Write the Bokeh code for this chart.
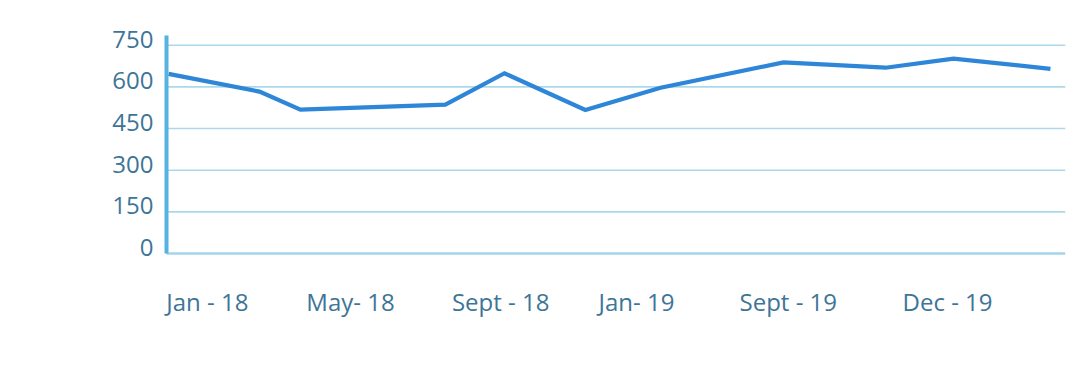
from bokeh.plotting import figure
from bokeh.models import FixedTicker, Range1d
from bokeh.core.properties import value
from bokeh.embed import file_html
from bokeh.resources import INLINE

# data (x in approximate month positions from Jan-18)
x_vals = [0, 2.6, 3.77, 7.91, 9.6, 11.91, 14.06, 17.57, 20.49, 22.43, 25.2]
y_vals = [647, 583, 518, 536, 649, 517, 597, 688, 669, 702, 665]

x_tick_pos = [1.11, 5.2, 9.49, 13.37, 17.71, 22.26]
x_tick_labels = ["Jan - 18", "May- 18", "Sept - 18", "Jan- 19", "Sept - 19", "Dec - 19"]
y_ticks = [0, 150, 300, 450, 600, 750]

FONT = "Open Sans"
LABEL_COLOR = "#3e7597"
AXIS_X = -0.057      # where the vertical axis line sits
AXIS_TOP = 785       # top end of the vertical axis line
X_END = 25.63

p = figure(width=1072, height=358, output_backend="svg", toolbar_location=None,
           x_range=Range1d(-1.943, X_END), y_range=Range1d(-25.2, 817.4),
           min_border_left=100, min_border_right=7, min_border_top=26, min_border_bottom=98)
p.outline_line_color = None
p.background_fill_color = "white"
p.border_fill_color = "white"
p.xgrid.grid_line_color = None
p.ygrid.grid_line_color = None
p.yaxis.visible = False

# horizontal grid lines (from tick values), starting at the axis line
grid_y = y_ticks[1:]
p.segment(x0=[AXIS_X] * len(grid_y), x1=[X_END] * len(grid_y), y0=grid_y, y1=grid_y,
          line_color="#acd8eb", line_width=1.6)
# baseline at 0
p.segment(x0=[AXIS_X], x1=[X_END], y0=[y_ticks[0]], y1=[y_ticks[0]],
          line_color="#a3d5eb", line_width=2.5)

# the series
p.line(x_vals, y_vals, line_color="#2d86d7", line_width=4.2, line_join="miter")

# vertical axis line
p.segment(x0=[AXIS_X], x1=[AXIS_X], y0=[y_ticks[0]], y1=[AXIS_TOP],
          line_color="#55b3e2", line_width=4)

# y tick labels, sitting just above their grid lines
p.text(x=[AXIS_X] * len(y_ticks), y=y_ticks, text=[str(v) for v in y_ticks],
       x_offset=-13, y_offset=-6,
       text_align="right", text_baseline="middle",
       text_font=value(FONT), text_font_size="24px", text_color=LABEL_COLOR)

# x axis
p.xaxis.ticker = FixedTicker(ticks=x_tick_pos)
p.xaxis.major_label_overrides = {t: l for t, l in zip(x_tick_pos, x_tick_labels)}
p.xaxis.axis_line_color = None
p.xaxis.major_tick_line_color = None
p.xaxis.minor_tick_line_color = None
p.xaxis.major_tick_out = 0
p.xaxis.major_tick_in = 0
p.xaxis.major_label_standoff = 24
p.xaxis.major_label_text_font = FONT
p.xaxis.major_label_text_font_size = "24px"
p.xaxis.major_label_text_color = LABEL_COLOR

open("out.html", "w").write(file_html(p, INLINE))
